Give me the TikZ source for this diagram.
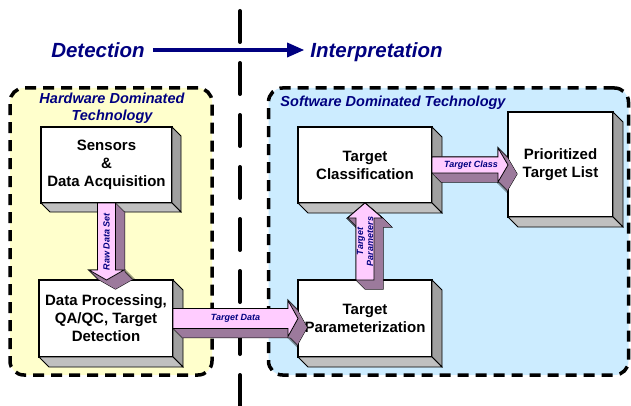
\documentclass[tikz,border=0pt]{standalone}
\usepackage{fontspec}
\setmainfont{Liberation Sans}
\usetikzlibrary{calc,arrows.meta}

\definecolor{navy}{RGB}{0,0,128}
\definecolor{hwyellow}{RGB}{255,255,204}
\definecolor{swblue}{RGB}{204,236,255}
\definecolor{arrowpink}{RGB}{255,204,255}
\definecolor{shadowpurple}{RGB}{156,122,156}
\definecolor{sidegray}{RGB}{160,160,160}
\definecolor{botgray}{RGB}{192,192,192}

% outline of a block arrow, pushed back by (#2,#2)
\newcommand\arrowshape[2]{($(#1s1)+(#2,#2)$) -- ($(#1b1)+(#2,#2)$) -- ($(#1w1)+(#2,#2)$) -- ($(#1B)+(#2,#2)$) -- ($(#1w2)+(#2,#2)$) -- ($(#1b2)+(#2,#2)$) -- ($(#1s2)+(#2,#2)$) -- cycle}

% extruded block arrow: prefix, start, end, half shaft, half head, head length, depth
\newcommand\blockarrow[7]{%
  \coordinate (#1A) at (#2);
  \coordinate (#1B) at (#3);
  \coordinate (#1H) at ($(#1B)!#6pt!(#1A)$);
  \coordinate (#1s1) at ($(#1A)!#4pt!90:(#1B)$);
  \coordinate (#1s2) at ($(#1A)!#4pt!-90:(#1B)$);
  \coordinate (#1b1) at ($(#1H)!#4pt!90:(#1B)$);
  \coordinate (#1b2) at ($(#1H)!#4pt!-90:(#1B)$);
  \coordinate (#1w1) at ($(#1H)!#5pt!90:(#1B)$);
  \coordinate (#1w2) at ($(#1H)!#5pt!-90:(#1B)$);
  \foreach \k in {0,...,#7} {\draw[line width=1pt] \arrowshape{#1}{\k};}
  \foreach \k in {0,...,#7} {\fill[shadowpurple] \arrowshape{#1}{\k};}
  \draw[line width=0.8pt, fill=arrowpink] \arrowshape{#1}{0};
}

% side and bottom faces of a raised box
\newcommand\boxdepth[2]{%
  \draw[line width=0.8pt, fill=sidegray] (#1.north east) -- ++(#2,#2) -- ($(#1.south east)+(#2,#2)$) -- (#1.south east) -- cycle;
  \draw[line width=0.8pt, fill=botgray] (#1.south west) -- (#1.south east) -- ($(#1.south east)+(#2,#2)$) -- ($(#1.south west)+(#2,#2)$) -- cycle;
}

\begin{document}
\begin{tikzpicture}[x=1pt,y=-1pt,
  container/.style={draw=black, line width=3.5pt, dash pattern=on 11pt off 7pt, rounded corners=14pt, inner sep=0pt, outer sep=0pt},
  stagebox/.style={draw=black, line width=1.3pt, fill=white, inner sep=0pt, outer sep=0pt, align=center,
    font=\fontsize{15}{18}\selectfont\bfseries},
  arrlabel/.style={font=\fontsize{9}{10}\selectfont\bfseries\itshape, text=navy, inner sep=0pt, align=center},
  grouplabel/.style={font=\fontsize{14.5}{17}\selectfont\bfseries\itshape, text=navy, inner sep=0pt, align=center},
  phase/.style={font=\fontsize{20.5}{24}\selectfont\bfseries\itshape, text=navy, inner sep=0pt, text height=15pt, text depth=0pt}
]
\useasboundingbox (0,0) rectangle (631,406);

% technology regions
\node[container, fill=hwyellow, minimum width=202pt, minimum height=287pt] (hw) at (111,231.5) {};
\node[container, fill=swblue, minimum width=360pt, minimum height=287pt] (sw) at (448.5,231.5) {};
\node[grouplabel] (hwlbl) at (112,108) {Hardware Dominated\\Technology};
\node[grouplabel] (swlbl) at (393,102.5) {Software Dominated Technology};

% divider between the two phases
\draw[line width=4pt, line cap=round, dash pattern=on 31pt off 21pt] (240,11) -- (240,406);

% phase heading
\node[phase] (det) at (98,50) {Detection};
\node[phase] (interp) at (376.5,50) {Interpretation};
\draw[navy, line width=3.2pt, shorten <=8pt, shorten >=6pt, -{Triangle[length=17pt,width=14pt]}] (det.east) -- (interp.west);

% processing stages
\node[stagebox, minimum width=131pt, minimum height=76pt] (sens) at (106.5,165) {Sensors\\\&\\Data Acquisition};
\boxdepth{sens}{9}
\node[stagebox, minimum width=134pt, minimum height=77pt] (dp) at (106,318.5) {Data Processing,\\QA/QC, Target\\Detection};
\boxdepth{dp}{10}
\node[stagebox, minimum width=134pt, minimum height=76pt] (tc) at (365,165) {Target\\Classification};
\boxdepth{tc}{10}
\node[stagebox, minimum width=105pt, minimum height=105pt] (ptl) at (560.5,164.5) {Prioritized\\Target List};
\boxdepth{ptl}{10}
\node[stagebox, minimum width=134pt, minimum height=77pt] (tp) at (365,318.5) {Target\\Parameterization};
\boxdepth{tp}{10}

% data flow
\blockarrow{raw}{sens.south}{sens.south |- dp.north}{9}{17.5}{10}{9}
\blockarrow{tdat}{dp.east}{dp.east -| tp.west}{10}{18}{10}{9}
\blockarrow{tpar}{tp.north}{tc.south}{9}{17.5}{15}{9}
\blockarrow{tcls}{tc.east}{tc.east -| ptl.west}{8}{17}{10}{9}

\node[arrlabel, rotate=90] (rawlbl) at ($(rawA)!0.5!(rawB)$) {Raw Data Set};
\node[arrlabel] (tdatlbl) at ($(tdatA)!0.5!(tdatB)$) {Target Data};
\node[arrlabel, rotate=90] (tparlbl) at ($(tparA)!0.5!(tparB)$) {Target\\Parameters};
\node[arrlabel] (tclslbl) at ($(tclsA)!0.5!(tclsB)+(1,0)$) {Target Class};
\end{tikzpicture}
\end{document}
